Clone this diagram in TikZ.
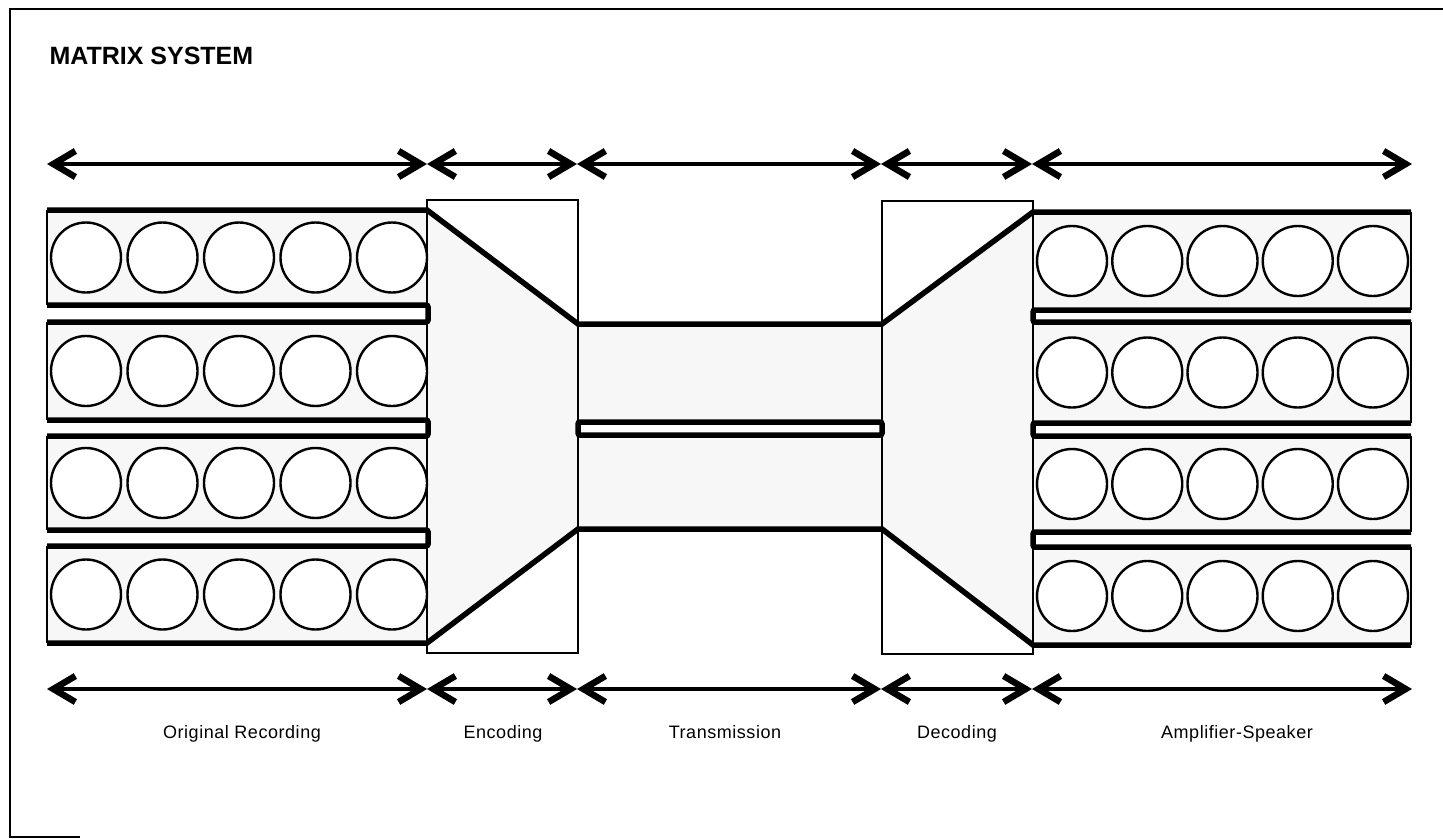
\documentclass[tikz,border=0pt]{standalone}
\usepackage{fontspec}
\setmainfont{Liberation Sans}
\newfontfamily\lblfont[LetterSpace=3]{Liberation Sans}
\usetikzlibrary{arrows.meta}
\begin{document}
\begin{tikzpicture}[x=1pt,y=-1pt,
  thinline/.style={line width=1.3pt},
  heavy/.style={line width=5.5pt, line join=miter},
  spk/.style={circle, draw, line width=2.4pt, minimum size=70pt, inner sep=0pt},
  dimline/.style={line width=4pt,
     {Straight Barb[length=22pt,width=26pt,line width=6.5pt]}-{Straight Barb[length=22pt,width=26pt,line width=6.5pt]}},
  lbl/.style={font=\lblfont\fontsize{18}{20}\selectfont, anchor=base},
  ttl/.style={font=\bfseries\fontsize{25}{28}\selectfont, anchor=base west}
]
\useasboundingbox (0,0) rectangle (1443,838);
\colorlet{stip}{black!3}
% frame
\coordinate (f1) at (80,837);
\coordinate (f2) at (10,837);
\coordinate (f3) at (10,9);
\coordinate (f4) at (1443,9);
\draw[thinline] (f1) -- (f2) -- (f3) -- (f4);
\node[ttl] (title) at (46,64) {MATRIX SYSTEM};

% key coordinates
\coordinate (LTL) at (47,210);  \coordinate (LTR) at (427,210);
\coordinate (LBL) at (47,643);  \coordinate (LBR) at (427,643);
\coordinate (TTL) at (578,324); \coordinate (TTR) at (882,324);
\coordinate (TBL) at (578,529); \coordinate (TBR) at (882,529);
\coordinate (RTL) at (1033,212); \coordinate (RTR) at (1411,212);
\coordinate (RBL) at (1033,645); \coordinate (RBR) at (1411,645);

% fills
\foreach \t/\b in {210/305,322/420,436/530,546/643}
  \fill[stip] (47,\t) rectangle (427,\b);
\foreach \t/\b in {212/310,322/423,436/532,547/645}
  \fill[stip] (1033,\t) rectangle (1411,\b);
\fill[stip] (LTR) -- (TTL) -- (TBL) -- (LBR) -- cycle;
\fill[stip] (TTL) rectangle (TBR);
\fill[stip] (TTR) -- (RTL) -- (RBL) -- (TBR) -- cycle;
\fill[white] (578,422) rectangle (882,435);

% encoding / decoding boxes
\node[draw, thinline, minimum width=151pt, minimum height=453pt, inner sep=0pt] (encbox) at (502.5,426.5) {};
\node[draw, thinline, minimum width=151pt, minimum height=453pt, inner sep=0pt] (decbox) at (957.5,427.5) {};

% band thin outer edges
\foreach \t/\b in {210/305,322/420,436/530,546/643}
  \draw[thinline] (47,\t) -- (47,\b);
\foreach \t/\b in {212/310,322/423,436/532,547/645}
  \draw[thinline] (1411,\t) -- (1411,\b);

% speakers
\foreach \i/\y in {1/257.5,2/371,3/483,4/594.5}
  \foreach \j in {0,...,4}
    \node[spk, fill=white] (L\i\j) at ({86+76.5*\j},\y) {};
\foreach \i/\y in {1/261,2/372.5,3/484,4/596}
  \foreach \j in {0,...,4}
    \node[spk, fill=white] (R\i\j) at ({1072+75.25*\j},\y) {};

% heavy outlines
\draw[heavy] (LTL) -- (LTR) -- (TTL) -- (TTR) -- (RTL) -- (RTR);
\draw[heavy] (LBL) -- (LBR) -- (TBL) -- (TBR) -- (RBL) -- (RBR);
\foreach \a/\b in {305/322,420/436,530/546}
  \draw[heavy, rounded corners=2pt] (47,\a) -- (428,\a) -- (428,\b) -- (47,\b);
\foreach \a/\b in {310/322,423/436,532/547}
  \draw[heavy, rounded corners=2pt] (1411,\a) -- (1033,\a) -- (1033,\b) -- (1411,\b);
\draw[heavy, rounded corners=2pt] (578,422) rectangle (882,435);

% dimension arrows
\foreach \n/\x in {0/47,1/427,2/577,3/881,4/1032,5/1412} {
  \coordinate (u\n) at (\x,164);
  \coordinate (d\n) at (\x,689);
}
\foreach \a/\b in {0/1,1/2,2/3,3/4,4/5} {
  \draw[dimline] (u\a) -- (u\b);
  \draw[dimline] (d\a) -- (d\b);
}

% labels
\node[lbl] (l1) at (242,738) {Original Recording};
\node[lbl] (l2) at (503,738) {Encoding};
\node[lbl] (l3) at (725,738) {Transmission};
\node[lbl] (l4) at (957,738) {Decoding};
\node[lbl] (l5) at (1237,738) {Amplifier-Speaker};
\end{tikzpicture}
\end{document}
